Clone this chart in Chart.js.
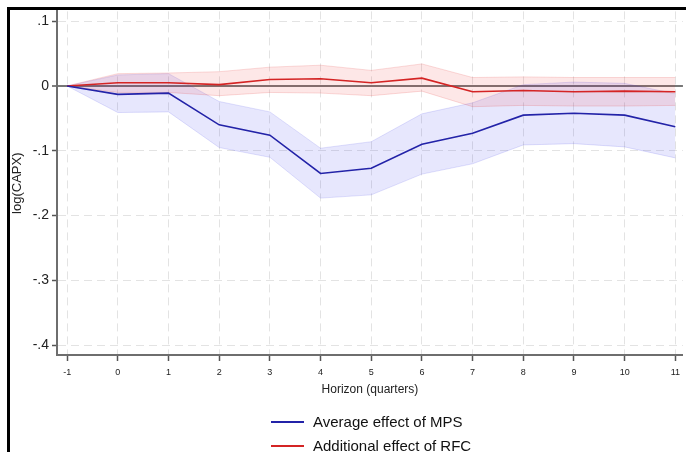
<!DOCTYPE html>
<html>
<head>
<meta charset="utf-8">
<script src="https://cdn.jsdelivr.net/npm/chart.js@4.4.1/dist/chart.umd.min.js"></script>
<style>
  html, body { margin: 0; padding: 0; background: #fff; }
  #wrap { position: relative; width: 686px; height: 452px; overflow: hidden; }
  #frame { position: absolute; left: 7px; top: 7px; right: -5px; bottom: -5px;
           border-left: 3px solid #000; border-top: 3px solid #000; pointer-events: none; }
  .leyenda { position: absolute; left: 271px; height: 20px; font: 15px "Liberation Sans", Arial, sans-serif; color: #111; white-space: nowrap; }
  .leyenda span.linea { position: absolute; left: 0; top: 9px; width: 33px; height: 2px; }
  .leyenda span.texto { position: absolute; left: 42px; top: 1px; }
</style>
</head>
<body>
<div id="wrap">
  <canvas id="grafica" width="686" height="452"></canvas>
  <div id="frame"></div>
  <div class="leyenda" style="top:412px"><span class="linea" style="background:#2323a8"></span><span class="texto">Average effect of MPS</span></div>
  <div class="leyenda" style="top:436px"><span class="linea" style="background:#d42424"></span><span class="texto">Additional effect of RFC</span></div>
</div>
<script>
// horizonte en trimestres
const horizonte = [-1, 0, 1, 2, 3, 4, 5, 6, 7, 8, 9, 10, 11];

// efecto promedio de MPS y su banda
const efectoMPS = [0, -0.013, -0.011, -0.060, -0.076, -0.135, -0.127, -0.090, -0.073, -0.045, -0.042, -0.045, -0.063];
const superiorMPS = [0, 0.017, 0.019, -0.024, -0.040, -0.096, -0.086, -0.043, -0.026, 0.002, 0.006, 0.004, -0.012];
const inferiorMPS = [0, -0.041, -0.040, -0.095, -0.110, -0.173, -0.168, -0.136, -0.120, -0.091, -0.089, -0.094, -0.111];

// efecto adicional de RFC y su banda
const efectoRFC = [0, 0.005, 0.005, 0.002, 0.010, 0.011, 0.005, 0.012, -0.009, -0.007, -0.009, -0.008, -0.009];
const superiorRFC = [0, 0.019, 0.020, 0.022, 0.029, 0.032, 0.024, 0.034, 0.013, 0.014, 0.013, 0.013, 0.013];
const inferiorRFC = [0, -0.010, -0.010, -0.015, -0.010, -0.011, -0.015, -0.008, -0.032, -0.030, -0.031, -0.031, -0.030];

// marcas del eje y
const ticksY = [0.1, 0, -0.1, -0.2, -0.3, -0.4];

const puntos = serie => serie.map((v, i) => ({ x: horizonte[i], y: v }));

// formato tipo Stata: .1, 0, -.1
function formatoY(v) {
    if (Math.abs(v) < 1e-9) return '0';
    return (v < 0 ? '-' : '') + String(Math.abs(v).toFixed(1)).replace(/^0/, '');
}

const fuente = '"Liberation Sans", Arial, sans-serif';
const gris = '#e3e3e3';

const ctx = document.getElementById('grafica').getContext('2d');

new Chart(ctx, {
    type: 'line',
    data: {
        datasets: [
            {
                label: 'Average effect of MPS',
                data: puntos(efectoMPS),
                borderColor: '#2323a8',
                borderWidth: 1.6,
                pointRadius: 0,
                fill: false
            },
            {
                label: 'Additional effect of RFC',
                data: puntos(efectoRFC),
                borderColor: '#d42424',
                borderWidth: 1.6,
                pointRadius: 0,
                fill: false
            },
            {
                label: 'RFC superior',
                data: puntos(superiorRFC),
                borderColor: 'rgba(230, 60, 60, 0.18)',
                borderWidth: 1,
                pointRadius: 0,
                backgroundColor: 'rgba(240, 40, 40, 0.11)',
                fill: '+1'
            },
            {
                label: 'RFC inferior',
                data: puntos(inferiorRFC),
                borderColor: 'rgba(230, 60, 60, 0.18)',
                borderWidth: 1,
                pointRadius: 0,
                fill: false
            },
            {
                label: 'MPS superior',
                data: puntos(superiorMPS),
                borderColor: 'rgba(60, 60, 230, 0.15)',
                borderWidth: 1,
                pointRadius: 0,
                backgroundColor: 'rgba(40, 40, 235, 0.11)',
                fill: '+1'
            },
            {
                label: 'MPS inferior',
                data: puntos(inferiorMPS),
                borderColor: 'rgba(60, 60, 230, 0.15)',
                borderWidth: 1,
                pointRadius: 0,
                fill: false
            }
        ]
    },
    options: {
        responsive: false,
        animation: false,
        layout: { padding: { top: 10, right: 0, bottom: 0, left: 0 } },
        scales: {
            x: {
                type: 'linear',
                min: -1.2,
                max: 11.15,
                afterBuildTicks: scale => { scale.ticks = horizonte.map(v => ({ value: v })); },
                afterFit: scale => { scale.height = 97; },
                grid: {
                    color: gris,
                    lineWidth: 1,
                    tickColor: '#555',
                    tickLength: 6,
                    tickWidth: 1.5
                },
                border: { color: '#6e6e6e', width: 2, dash: [8, 5] },
                ticks: {
                    color: '#222',
                    padding: 6,
                    maxRotation: 0,
                    font: { family: fuente, size: 9 },
                    callback: v => String(v)
                },
                title: {
                    display: true,
                    text: 'Horizon (quarters)',
                    color: '#222',
                    font: { family: fuente, size: 12 },
                    padding: { top: 4, bottom: 55 }
                }
            },
            y: {
                min: -0.415,
                max: 0.115,
                afterBuildTicks: scale => { scale.ticks = ticksY.map(v => ({ value: v })); },
                afterFit: scale => { scale.width = 57; },
                grid: {
                    color: c => (c.tick && Math.abs(c.tick.value) < 1e-9) ? '#777' : gris,
                    lineWidth: c => (c.tick && Math.abs(c.tick.value) < 1e-9) ? 2 : 1,
                    tickColor: '#555',
                    tickLength: 5,
                    tickWidth: 1.5
                },
                border: {
                    color: '#6e6e6e',
                    width: 2,
                    dash: c => (c.tick && Math.abs(c.tick.value) < 1e-9) ? [] : [8, 5]
                },
                ticks: {
                    color: '#222',
                    padding: 3,
                    font: { family: fuente, size: 14 },
                    callback: v => formatoY(v)
                },
                title: {
                    display: true,
                    text: 'log(CAPX)',
                    color: '#222',
                    font: { family: fuente, size: 13 },
                    padding: { top: 10, bottom: 0 }
                }
            }
        },
        plugins: {
            legend: { display: false },
            tooltip: { enabled: false }
        }
    }
});
</script>
</body>
</html>
